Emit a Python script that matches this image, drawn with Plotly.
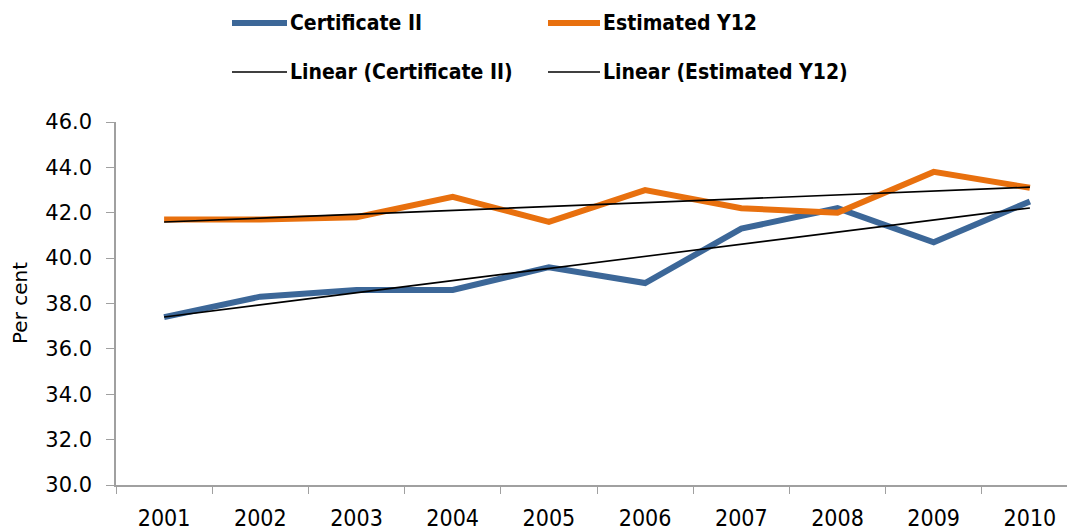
import numpy as np
import plotly.graph_objects as go

years = ["2001", "2002", "2003", "2004", "2005", "2006", "2007", "2008", "2009", "2010"]
cert_ii = [37.4, 38.3, 38.6, 38.6, 39.6, 38.9, 41.3, 42.2, 40.7, 42.5]
est_y12 = [41.7, 41.7, 41.8, 42.7, 41.6, 43.0, 42.2, 42.0, 43.8, 43.1]
y_ticks = [30, 32, 34, 36, 38, 40, 42, 44, 46]

BLUE = "#3C6798"
ORANGE = "#E8700E"
AXIS_GREY = "#A0A0A0"
NARROW = "DejaVu Sans Condensed, DejaVu Sans, sans-serif"

# plot-area geometry in pixels
W, H = 1067, 531
L, T, B = 116, 122, 46
PW, PH = W - L, H - T - B


def px(x):
    return (x - L) / PW


def py(y):
    return (H - B - y) / PH


def trend(values):
    idx = np.arange(len(values))
    slope, icpt = np.polyfit(idx, values, 1)
    return list(icpt + slope * idx)


fig = go.Figure()
fig.add_trace(go.Scatter(x=years, y=cert_ii, mode="lines", name="Certificate II",
                         line=dict(color=BLUE, width=6), showlegend=False))
fig.add_trace(go.Scatter(x=years, y=est_y12, mode="lines", name="Estimated Y12",
                         line=dict(color=ORANGE, width=6), showlegend=False))
fig.add_trace(go.Scatter(x=years, y=trend(cert_ii), mode="lines", name="Linear (Certificate II)",
                         line=dict(color="black", width=1.6), showlegend=False))
fig.add_trace(go.Scatter(x=years, y=trend(est_y12), mode="lines", name="Linear (Estimated Y12)",
                         line=dict(color="black", width=1.6), showlegend=False))

# two-row legend
legend_items = [
    ("Certificate II", BLUE, 6, 232, 287, 23),
    ("Estimated Y12", ORANGE, 6, 548, 600, 23),
    ("Linear (Certificate II)", "black", 1.6, 232, 287, 72),
    ("Linear (Estimated Y12)", "black", 1.6, 548, 600, 72),
]
shapes = []
annotations = []
for label, color, width, x0, x1, yc in legend_items:
    shapes.append(dict(type="line", xref="paper", yref="paper",
                       x0=px(x0), x1=px(x1), y0=py(yc), y1=py(yc),
                       line=dict(color=color, width=width)))
    annotations.append(dict(text=f"<b>{label}</b>", xref="paper", yref="paper",
                            x=px(x1 + 1), y=py(yc), xanchor="left", yanchor="middle",
                            showarrow=False,
                            font=dict(family=NARROW, size=21, color="black")))

annotations.append(dict(text="Per cent", xref="paper", yref="paper",
                        x=px(20), y=py(303), xanchor="center", yanchor="middle",
                        textangle=-90, showarrow=False,
                        font=dict(family="DejaVu Sans", size=20, color="black")))

fig.update_layout(
    width=W, height=H,
    margin=dict(l=L, r=0, t=T, b=B, pad=0),
    paper_bgcolor="white", plot_bgcolor="white",
    shapes=shapes, annotations=annotations,
    xaxis=dict(type="category", range=[-0.5, -0.5 + PW / 96.2],
               showline=True, linecolor=AXIS_GREY, linewidth=1.5,
               ticks="outside", tickson="boundaries", ticklen=7, tickcolor=AXIS_GREY,
               showgrid=False, zeroline=False,
               ticklabelstandoff=12,
               tickfont=dict(family=NARROW, size=23, color="black")),
    yaxis=dict(range=[30, 46], tickvals=y_ticks, tickformat=".1f",
               showline=True, linecolor=AXIS_GREY, linewidth=1.5,
               ticks="outside", ticklen=8, tickcolor=AXIS_GREY,
               showgrid=False, zeroline=False,
               ticklabelstandoff=10,
               tickfont=dict(family="DejaVu Sans", size=21, color="black")),
)

fig.write_html("out.html")
